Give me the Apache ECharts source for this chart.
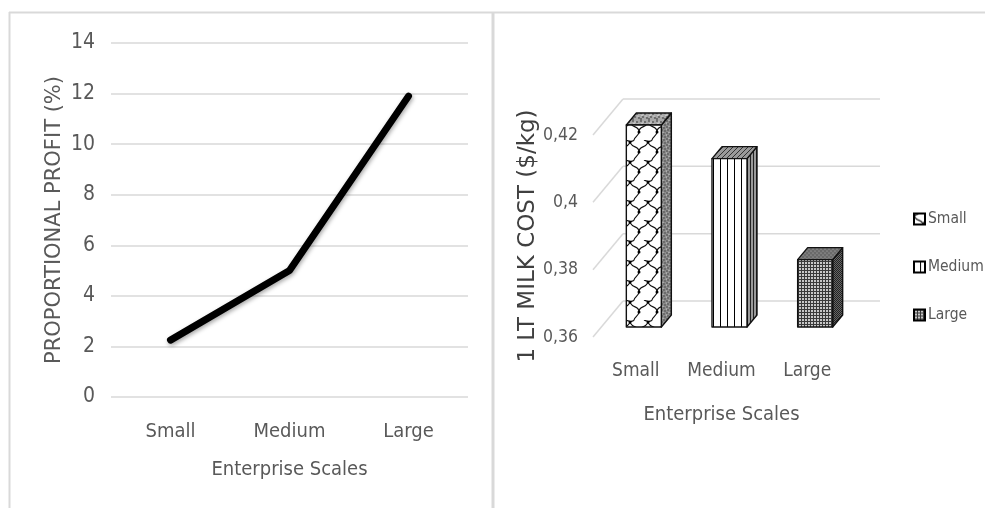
<!DOCTYPE html>
<html>
<head>
<meta charset="utf-8">
<script src="https://cdn.jsdelivr.net/npm/echarts@6/dist/echarts.min.js"></script>
<style>
  html, body { margin: 0; padding: 0; background: #fff; }
  #chart { width: 985px; height: 508px; }
</style>
</head>
<body>
<div id="chart"></div>
<script>
// Enterprise scale categories shared by both panels
const scales = ['Small', 'Medium', 'Large'];
// Left panel: proportional profit (%)
const profitPct = [2.25, 5.0, 11.9];
const profitTicks = { min: 0, max: 14, interval: 2 };
// Right panel: cost of 1 litre of milk ($/kg)
const milkCost = [0.42, 0.41, 0.38];
const costTicks = [0.36, 0.38, 0.40, 0.42];

const FONT = '"DejaVu Sans Condensed", "Liberation Sans", sans-serif';
const WIDE = '"DejaVu Sans", "Liberation Sans", sans-serif';
const GREY = '#595959';
const LINE = '#d9d9d9';

// ---- fill textures for the 3D columns ----
function tile(w, h, fn) {
  const c = document.createElement('canvas');
  c.width = w; c.height = h;
  const g = c.getContext('2d');
  fn(g, w, h);
  return c;
}
const pat = c => ({ image: c, repeat: 'repeat' });

function dots(g, pts, col, r) {
  g.fillStyle = col;
  pts.forEach(p => { g.beginPath(); g.arc(p[0], p[1], r, 0, Math.PI * 2); g.fill(); });
}

const smallFront = tile(18, 20, (g, w, h) => {
  g.fillStyle = '#fff'; g.fillRect(0, 0, w, h);
  g.strokeStyle = '#111'; g.lineWidth = 1.2;
  g.beginPath();
  g.moveTo(0, 2); g.bezierCurveTo(2, 9, 9, 5, 9, 12);
  g.moveTo(18, 2); g.bezierCurveTo(16, 9, 9, 5, 9, 12);
  g.moveTo(9, 12); g.bezierCurveTo(9, 16, 4, 17, 4, 20);
  g.moveTo(4, 0); g.bezierCurveTo(4, 1, 2, 1, 0, 2);
  g.moveTo(18, 2); g.bezierCurveTo(18, 1, 16, 1, 14, 0);
  g.stroke();
  dots(g, [[0, 2], [18, 2], [9, 12]], '#000', 1.5);
});
const smallTop = tile(8, 8, (g, w, h) => {
  g.fillStyle = '#a8a8a8'; g.fillRect(0, 0, w, h);
  dots(g, [[1, 1], [5, 2], [3, 5], [7, 6], [1, 7]], '#555', 0.9);
  dots(g, [[3, 2], [6, 4], [2, 3.5]], '#eee', 0.6);
});
const smallSide = tile(6, 6, (g, w, h) => {
  g.fillStyle = '#8c8c8c'; g.fillRect(0, 0, w, h);
  dots(g, [[1, 1], [4, 2], [2, 4], [5, 5]], '#444', 0.8);
  dots(g, [[3, 0.5], [0.5, 3]], '#ddd', 0.5);
});

const mediumFront = tile(7, 10, (g, w, h) => {
  g.fillStyle = '#fff'; g.fillRect(0, 0, w, h);
  g.fillStyle = '#000'; g.fillRect(6, 0, 1.3, h);
});
const mediumTop = tile(5, 5, (g, w, h) => {
  g.fillStyle = '#9a9a9a'; g.fillRect(0, 0, w, h);
  g.strokeStyle = '#333'; g.lineWidth = 1;
  g.beginPath(); g.moveTo(0, 5); g.lineTo(5, 0); g.stroke();
});
const mediumSide = tile(3, 4, (g, w, h) => {
  g.fillStyle = '#9a9a9a'; g.fillRect(0, 0, w, h);
  g.fillStyle = '#222'; g.fillRect(0, 0, 1, h);
});

const largeFront = tile(3, 3, (g, w, h) => {
  g.fillStyle = '#c8c8c8'; g.fillRect(0, 0, w, h);
  g.fillStyle = '#3a3a3a'; g.fillRect(0, 0, w, 1); g.fillRect(0, 0, 1, h);
});
const largeTop = tile(4, 4, (g, w, h) => {
  g.fillStyle = '#6a6a6a'; g.fillRect(0, 0, w, h);
  dots(g, [[1, 1], [3, 3]], '#bbb', 0.6);
});
const largeSide = tile(2, 2, (g, w, h) => {
  g.fillStyle = '#666'; g.fillRect(0, 0, w, h);
  g.fillStyle = '#222'; g.fillRect(0, 0, 1, 1); g.fillRect(1, 1, 1, 1);
});

const faceFills = [
  { front: pat(smallFront), top: pat(smallTop), side: pat(smallSide) },
  { front: pat(mediumFront), top: pat(mediumTop), side: pat(mediumSide) },
  { front: pat(largeFront), top: pat(largeTop), side: pat(largeSide) }
];

// perspective of the right panel
const WALL_DX = 30, WALL_DY = -36;    // depth of the back wall
const BAR_DX = 8, BAR_DY = -10;       // columns sit a little behind the front edge
const DEPTH_DX = 10, DEPTH_DY = -12;  // column depth
const BAR_W = 35;

function renderColumn(params, api) {
  const idx = api.value(0);
  const top = api.coord([idx, api.value(1)]);
  const base = api.coord([idx, costTicks[0]]);
  const xl = top[0] + BAR_DX - BAR_W / 2;
  const xr = xl + BAR_W;
  const yt = top[1] + BAR_DY;
  const yb = base[1] + BAR_DY;
  const f = faceFills[idx];
  const edge = { stroke: '#111', lineWidth: 1.4, lineJoin: 'round' };
  return {
    type: 'group',
    children: [
      { type: 'polygon', shape: { points: [[xr, yt], [xr + DEPTH_DX, yt + DEPTH_DY], [xr + DEPTH_DX, yb + DEPTH_DY], [xr, yb]] },
        style: Object.assign({ fill: f.side }, edge) },
      { type: 'polygon', shape: { points: [[xl, yt], [xl + DEPTH_DX, yt + DEPTH_DY], [xr + DEPTH_DX, yt + DEPTH_DY], [xr, yt]] },
        style: Object.assign({ fill: f.top }, edge) },
      { type: 'rect', shape: { x: xl, y: yt, width: BAR_W, height: yb - yt },
        style: Object.assign({ fill: f.front }, edge) }
    ]
  };
}

function renderWallLine(params, api) {
  const p = api.coord([0, api.value(1)]);
  const band = api.size([1, 0])[0];
  const x0 = p[0] - band / 2;
  const x1 = x0 + band * scales.length;
  const st = { stroke: LINE, lineWidth: 1.5 };
  return {
    type: 'group',
    children: [
      { type: 'line', shape: { x1: x0, y1: p[1], x2: x0 + WALL_DX, y2: p[1] + WALL_DY }, style: st },
      { type: 'line', shape: { x1: x0 + WALL_DX, y1: p[1] + WALL_DY, x2: x1 + WALL_DX, y2: p[1] + WALL_DY }, style: st }
    ]
  };
}

const chart = echarts.init(document.getElementById('chart'), null, { renderer: 'canvas' });

const columnSeries = scales.map((name, i) => ({
  name: name,
  type: 'custom',
  xAxisIndex: 1, yAxisIndex: 1,
  renderItem: renderColumn,
  encode: { x: 0, y: 1 },
  itemStyle: { color: faceFills[i].front, borderColor: '#000', borderWidth: 1.5 },
  data: [[i, milkCost[i]]],
  z: 3
}));

chart.setOption({
  animation: false,
  backgroundColor: '#fff',
  textStyle: { fontFamily: FONT },
  graphic: [
    { type: 'line', shape: { x1: 9, y1: 12.5, x2: 985, y2: 12.5 }, style: { stroke: LINE, lineWidth: 2 } },
    { type: 'line', shape: { x1: 9.5, y1: 12, x2: 9.5, y2: 508 }, style: { stroke: LINE, lineWidth: 2 } },
    { type: 'line', shape: { x1: 493, y1: 12, x2: 493, y2: 508 }, style: { stroke: LINE, lineWidth: 3 } }
  ],
  legend: {
    data: scales,
    orient: 'vertical',
    left: 908,
    top: 206,
    itemWidth: 11,
    itemHeight: 11,
    itemGap: 32,
    icon: 'rect',
    textStyle: { color: GREY, fontSize: 15.5, fontFamily: FONT, padding: [0, 0, 0, -2] }
  },
  grid: [
    { left: 111, right: 517, top: 43, bottom: 111 },
    { left: 593, right: 135, top: 135, bottom: 171 }
  ],
  xAxis: [
    {
      gridIndex: 0, type: 'category', data: scales, boundaryGap: true,
      axisLine: { show: false }, axisTick: { show: false },
      axisLabel: { color: GREY, fontSize: 20, margin: 25, interval: 0 },
      name: 'Enterprise Scales', nameLocation: 'middle', nameGap: 63,
      nameTextStyle: { color: GREY, fontSize: 20 }
    },
    {
      gridIndex: 1, type: 'category', data: scales, boundaryGap: true,
      axisLine: { show: false }, axisTick: { show: false },
      axisLabel: { color: GREY, fontSize: 19, margin: 25, interval: 0 },
      name: 'Enterprise Scales', nameLocation: 'middle', nameGap: 68,
      nameTextStyle: { color: GREY, fontSize: 20 }
    }
  ],
  yAxis: [
    {
      gridIndex: 0, type: 'value', min: profitTicks.min, max: profitTicks.max, interval: profitTicks.interval,
      axisLine: { show: false }, axisTick: { show: false },
      axisLabel: { color: GREY, fontSize: 21, margin: 16 },
      splitLine: { lineStyle: { color: LINE, width: 1.5 } },
      name: 'PROPORTIONAL PROFIT (%)', nameLocation: 'middle', nameGap: 46,
      nameTextStyle: { color: GREY, fontSize: 21, fontFamily: WIDE }
    },
    {
      gridIndex: 1, type: 'value', min: costTicks[0], max: costTicks[costTicks.length - 1], interval: 0.02,
      axisLine: { show: false }, axisTick: { show: false },
      axisLabel: {
        color: GREY, fontSize: 17.5, margin: 15,
        formatter: v => String(+v.toFixed(2)).replace('.', ',')
      },
      splitLine: { show: false },
      name: '1 LT MILK COST ($/kg)', nameLocation: 'middle', nameGap: 46,
      nameTextStyle: { color: '#404040', fontSize: 23, fontFamily: WIDE }
    }
  ],
  series: [
    {
      name: 'Proportional profit',
      type: 'line',
      xAxisIndex: 0, yAxisIndex: 0,
      data: profitPct,
      symbol: 'none',
      lineStyle: {
        color: '#000', width: 7, cap: 'round', join: 'round',
        shadowColor: 'rgba(0,0,0,0.35)', shadowBlur: 4, shadowOffsetX: 1, shadowOffsetY: 2
      },
      z: 3
    },
    {
      name: 'wall',
      type: 'custom',
      xAxisIndex: 1, yAxisIndex: 1,
      renderItem: renderWallLine,
      encode: { x: 0, y: 1 },
      data: costTicks.map(v => [0, v]),
      silent: true,
      z: 1
    }
  ].concat(columnSeries)
});
</script>
</body>
</html>
